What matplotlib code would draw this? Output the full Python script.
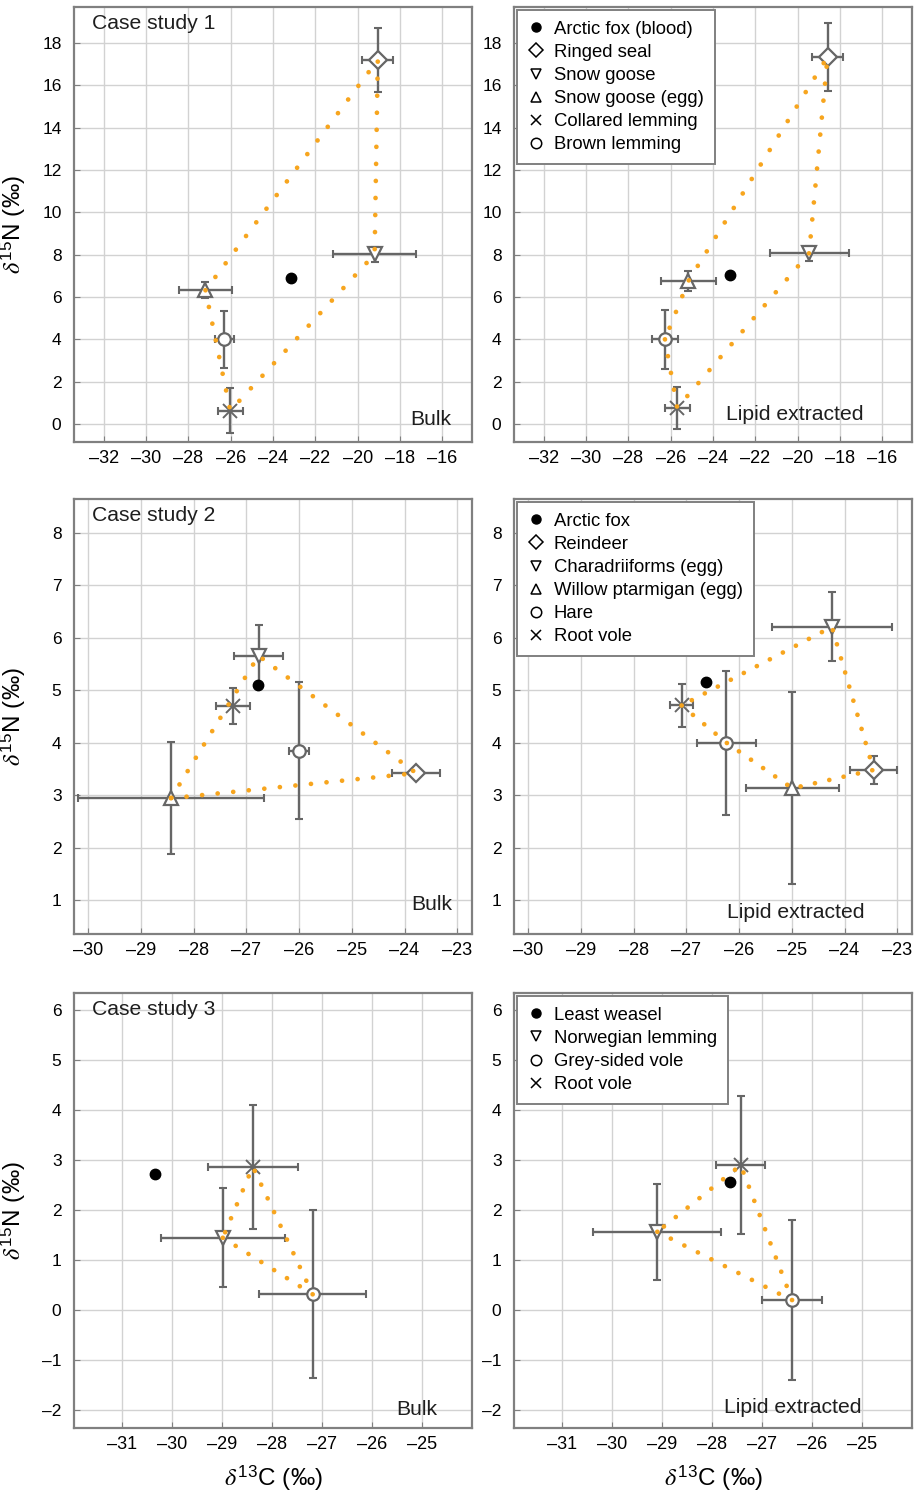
import matplotlib.pyplot as plt
from matplotlib.lines import Line2D
import numpy as np

plt.rcParams['font.family'] = ['Liberation Sans', 'DejaVu Sans']
plt.rcParams['mathtext.fontset'] = 'stix'

# case study 1 -- first entry is the predator (no error bars)
c1_species = ['Arctic fox (blood)', 'Ringed seal', 'Snow goose', 'Snow goose (egg)',
              'Collared lemming', 'Brown lemming']
c1_markers = ['o', 'D', 'v', '^', 'x', 'o']
c1_bulk_x = [-23.15, -19.05, -19.2, -27.19, -26.02, -26.31]
c1_bulk_y = [6.9, 17.2, 8.02, 6.32, 0.63, 4.0]
c1_bulk_xerr = [0, 0.73, 1.95, 1.27, 0.59, 0.45]
c1_bulk_yerr = [0, 1.5, 0.35, 0.37, 1.05, 1.34]
c1_lip_x = [-23.21, -18.59, -19.46, -25.16, -25.69, -26.27]
c1_lip_y = [7.03, 17.34, 8.07, 6.76, 0.76, 4.0]
c1_lip_xerr = [0, 0.75, 1.87, 1.29, 0.6, 0.62]
c1_lip_yerr = [0, 1.59, 0.35, 0.47, 0.98, 1.4]

# case study 2
c2_species = ['Arctic fox', 'Reindeer', 'Charadriiforms (egg)', 'Willow ptarmigan (egg)',
              'Hare', 'Root vole']
c2_markers = ['o', 'D', 'v', '^', 'o', 'x']
c2_bulk_x = [-26.78, -23.78, -26.77, -28.43, -26.01, -27.26]
c2_bulk_y = [5.10, 3.42, 5.66, 2.94, 3.85, 4.70]
c2_bulk_xerr = [0, 0.46, 0.46, 1.77, 0.19, 0.32]
c2_bulk_yerr = [0, 0.05, 0.58, 1.07, 1.31, 0.34]
c2_lip_x = [-26.63, -23.45, -24.24, -24.99, -26.24, -27.09]
c2_lip_y = [5.15, 3.48, 6.21, 3.13, 4.0, 4.71]
c2_lip_xerr = [0, 0.45, 1.14, 0.88, 0.56, 0.22]
c2_lip_yerr = [0, 0.27, 0.66, 1.83, 1.37, 0.41]

# case study 3
c3_species = ['Least weasel', 'Norwegian lemming', 'Grey-sided vole', 'Root vole']
c3_markers = ['o', 'v', 'o', 'x']
c3_bulk_x = [-30.35, -28.99, -27.19, -28.39]
c3_bulk_y = [2.73, 1.45, 0.32, 2.87]
c3_bulk_xerr = [0, 1.24, 1.07, 0.9]
c3_bulk_yerr = [0, 0.99, 1.68, 1.24]
c3_lip_x = [-27.64, -29.10, -26.40, -27.43]
c3_lip_y = [2.57, 1.57, 0.20, 2.90]
c3_lip_xerr = [0, 1.28, 0.6, 0.49]
c3_lip_yerr = [0, 0.96, 1.6, 1.38]

GREY = '#666666'
ORANGE = '#f7a51e'


def convex_hull(px, py):
    pts = sorted(zip(px, py))

    def cross(o, a, b):
        return (a[0] - o[0]) * (b[1] - o[1]) - (a[1] - o[1]) * (b[0] - o[0])

    lower = []
    for p in pts:
        while len(lower) >= 2 and cross(lower[-2], lower[-1], p) <= 0:
            lower.pop()
        lower.append(p)
    upper = []
    for p in reversed(pts):
        while len(upper) >= 2 and cross(upper[-2], upper[-1], p) <= 0:
            upper.pop()
        upper.append(p)
    h = lower[:-1] + upper[:-1]
    h.append(h[0])
    return [p[0] for p in h], [p[1] for p in h]


def panel(ax, x, y, xerr, yerr, markers, xlim, ylim, xticks, yticks, gap):
    ax.set_xlim(*xlim)
    ax.set_ylim(*ylim)
    ax.set_xticks(xticks)
    ax.set_yticks(yticks)
    ax.set_xticklabels([str(t).replace('-', '\u2013') for t in xticks])
    ax.set_yticklabels([str(t).replace('-', '\u2013') for t in yticks])
    ax.grid(True, color='#d2d2d2', lw=1.0, zorder=0)
    ax.set_axisbelow(True)
    for s in ax.spines.values():
        s.set_color('#808080')
        s.set_linewidth(1.6)
    ax.tick_params(direction='in', length=4, color='#808080', labelsize=13)
    ax.tick_params(axis='y', pad=9, labelsize=12.5)
    ax.tick_params(axis='x', pad=6)

    # prey sources with SD bars
    for i in range(1, len(x)):
        ax.errorbar(x[i], y[i], xerr=xerr[i], yerr=yerr[i], fmt='none',
                    ecolor=GREY, elinewidth=1.7, capsize=3, capthick=1.5, zorder=3)
        m = markers[i]
        if m == 'x':
            ax.plot(x[i], y[i], marker='x', color=GREY, ms=10, mew=1.4, zorder=4)
        else:
            ms = 10.5 if m in ('v', '^') else (9.5 if m == 'D' else 9)
            ax.plot(x[i], y[i], marker=m, mfc='white', mec=GREY, ms=ms, mew=1.6,
                    ls='none', zorder=4)

    # mixing polygon
    hx, hy = convex_hull(x[1:], y[1:])
    ax.plot(hx, hy, color=ORANGE, lw=3.4, ls=(0, (0.01, gap)),
            dash_capstyle='round', zorder=5)

    # predator
    ax.plot(x[0], y[0], marker='o', color='black', ms=7.5, ls='none', zorder=6)


def add_legend(ax, names, markers):
    handles = []
    for i, (n, m) in enumerate(zip(names, markers)):
        if i == 0:
            h = Line2D([], [], marker='o', color='black', ms=6.5, ls='none')
        elif m == 'x':
            h = Line2D([], [], marker='x', color='black', ms=7.5, mew=1.1, ls='none')
        else:
            h = Line2D([], [], marker=m, color='black', mfc='white', ms=7.5, mew=1.1,
                       ls='none')
        handles.append(h)
    leg = ax.legend(handles, names, loc='upper left', fontsize=13.3, frameon=True,
                    fancybox=False, framealpha=1, edgecolor='#808080',
                    handlelength=0.9, handletextpad=0.5, labelspacing=0.33,
                    borderpad=0.6, borderaxespad=0.15)
    leg.get_frame().set_linewidth(1.4)
    leg.set_zorder(10)


fig = plt.figure(figsize=(9.17, 15.04), dpi=100)

col_x = [74 / 917, 514 / 917]
w = 398 / 917
row_y = [1 - 442 / 1504, 1 - 934 / 1504, 1 - 1428 / 1504]
h = 435 / 1504

axes = [[fig.add_axes([cx, ry, w, h]) for cx in col_x] for ry in row_y]

c1_xlim = (-33.4, -14.6)
c1_ylim = (-0.85, 19.7)
c1_xt = list(range(-32, -15, 2))
c1_yt = list(range(0, 19, 2))
panel(axes[0][0], c1_bulk_x, c1_bulk_y, c1_bulk_xerr, c1_bulk_yerr, c1_markers,
      c1_xlim, c1_ylim, c1_xt, c1_yt, 3.6)
panel(axes[0][1], c1_lip_x, c1_lip_y, c1_lip_xerr, c1_lip_yerr, c1_markers,
      c1_xlim, c1_ylim, c1_xt, c1_yt, 3.6)

c2_xlim = (-30.27, -22.72)
c2_ylim = (0.35, 8.65)
c2_xt = list(range(-30, -22))
c2_yt = list(range(1, 9))
panel(axes[1][0], c2_bulk_x, c2_bulk_y, c2_bulk_xerr, c2_bulk_yerr, c2_markers,
      c2_xlim, c2_ylim, c2_xt, c2_yt, 3.3)
panel(axes[1][1], c2_lip_x, c2_lip_y, c2_lip_xerr, c2_lip_yerr, c2_markers,
      c2_xlim, c2_ylim, c2_xt, c2_yt, 3.1)

c3_xlim = (-31.97, -24.0)
c3_ylim = (-2.35, 6.34)
c3_xt = list(range(-31, -24))
c3_yt = list(range(-2, 7))
panel(axes[2][0], c3_bulk_x, c3_bulk_y, c3_bulk_xerr, c3_bulk_yerr, c3_markers,
      c3_xlim, c3_ylim, c3_xt, c3_yt, 3.2)
panel(axes[2][1], c3_lip_x, c3_lip_y, c3_lip_xerr, c3_lip_yerr, c3_markers,
      c3_xlim, c3_ylim, c3_xt, c3_yt, 3.2)

add_legend(axes[0][1], c1_species, c1_markers)
add_legend(axes[1][1], c2_species, c2_markers)
add_legend(axes[2][1], c3_species, c3_markers)

txt = dict(fontsize=15.2, color='#1e1e1e', zorder=11)
for r, name in enumerate(['Case study 1', 'Case study 2', 'Case study 3']):
    axes[r][0].text(0.045, 0.985, name, transform=axes[r][0].transAxes,
                    ha='left', va='top', **txt)

bulk_pos = [(0.949, 0.04), (0.95, 0.055), (0.912, 0.03)]
lip_pos = [(0.877, 0.05), (0.88, 0.037), (0.874, 0.035)]
for r in range(3):
    axes[r][0].text(*bulk_pos[r], 'Bulk', transform=axes[r][0].transAxes,
                    ha='right', va='baseline', **txt)
    axes[r][1].text(*lip_pos[r], 'Lipid extracted', transform=axes[r][1].transAxes,
                    ha='right', va='baseline', **txt)

for r in range(3):
    axes[r][0].set_ylabel(r'$\delta^{\mathregular{15}}$N (‰)', fontsize=17.5)
    axes[r][0].yaxis.set_label_coords(-0.115, 0.5)
for c in range(2):
    axes[2][c].set_xlabel(r'$\delta^{\mathregular{13}}$C (‰)', fontsize=17.5)
    axes[2][c].xaxis.set_label_coords(0.5, -0.08)

fig.savefig('out.png', dpi=100, facecolor='white')
